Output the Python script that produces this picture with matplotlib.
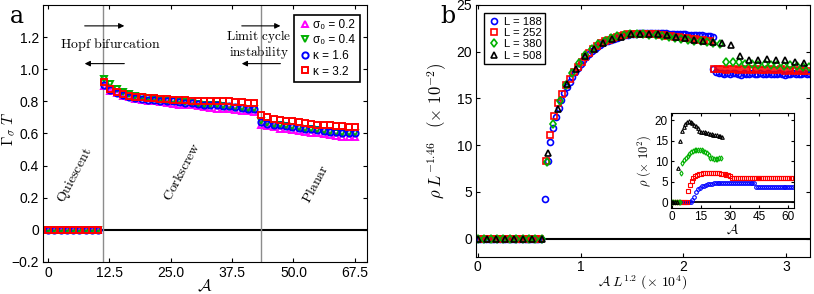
import numpy as np
import matplotlib
matplotlib.use('Agg')
import matplotlib.pyplot as plt

plt.rcParams['font.family'] = ['Liberation Sans', 'DejaVu Sans']
plt.rcParams['mathtext.fontset'] = 'cm'

# ---------------- panel a data ----------------
quiescent_x = [0, 1.275, 2.55, 3.825, 5.1, 6.375, 7.65, 8.925, 10.2]
cork_x = np.arange(25) * 1.275 + 11.4
planar_x = np.arange(16) * 1.273 + 43.4

cork_sigma02 = [0.895, 0.865, 0.85, 0.835, 0.825, 0.815, 0.81, 0.80, 0.80, 0.795, 0.79, 0.785, 0.78,
                0.78, 0.775, 0.77, 0.765, 0.76, 0.755, 0.755, 0.75, 0.745, 0.74, 0.74, 0.735]
cork_sigma04 = [0.94, 0.905, 0.88, 0.86, 0.845, 0.835, 0.825, 0.82, 0.815, 0.81, 0.805, 0.80, 0.80,
                0.795, 0.79, 0.785, 0.78, 0.78, 0.775, 0.77, 0.765, 0.76, 0.76, 0.755, 0.75]
cork_kappa16 = [0.90, 0.87, 0.855, 0.84, 0.83, 0.82, 0.815, 0.81, 0.81, 0.805, 0.80, 0.80, 0.795,
                0.79, 0.79, 0.785, 0.78, 0.78, 0.775, 0.77, 0.77, 0.765, 0.76, 0.755, 0.75]
cork_kappa32 = [0.92, 0.88, 0.86, 0.845, 0.835, 0.83, 0.825, 0.82, 0.82, 0.815, 0.815, 0.81, 0.81,
                0.81, 0.805, 0.805, 0.80, 0.80, 0.80, 0.80, 0.80, 0.795, 0.795, 0.79, 0.79]

planar_sigma02 = [0.655, 0.645, 0.64, 0.63, 0.625, 0.62, 0.615, 0.61, 0.60, 0.60, 0.595, 0.59,
                  0.585, 0.58, 0.58, 0.575]
planar_sigma04 = [0.675, 0.665, 0.655, 0.65, 0.645, 0.64, 0.635, 0.63, 0.625, 0.62, 0.615, 0.61,
                  0.605, 0.605, 0.60, 0.60]
planar_kappa16 = [0.67, 0.66, 0.655, 0.65, 0.645, 0.64, 0.635, 0.63, 0.625, 0.62, 0.615, 0.61,
                  0.61, 0.605, 0.60, 0.60]
planar_kappa32 = [0.715, 0.70, 0.69, 0.685, 0.68, 0.675, 0.67, 0.665, 0.66, 0.655, 0.655, 0.65,
                  0.645, 0.645, 0.64, 0.64]

a_xticks = [0, 12.5, 25, 37.5, 50, 62.5]
a_xticklabels = ['0', '12.5', '25.0', '37.5', '50.0', '67.5']
a_yticks = [-0.2, 0, 0.2, 0.4, 0.6, 0.8, 1.0, 1.2]
a_yticklabels = ['\u22120.2', '0', '0.2', '0.4', '0.6', '0.8', '1.0', '1.2']

# ---------------- panel b data ----------------
# L = 188
b188_zero_x = np.arange(0, 0.64, 0.0268)
b188_up_y = [4.2, 8.3, 10.3, 11.8, 13.0, 14.0, 14.8, 15.6, 16.2, 16.8, 17.3, 17.8, 18.3, 18.7, 19.1,
             19.4, 19.8, 20.1, 20.3, 20.5, 20.7, 20.9, 21.1, 21.2, 21.3, 21.4, 21.5, 21.6, 21.7,
             21.75, 21.8, 21.85, 21.9, 21.9, 21.95, 21.95, 22.0, 22.0, 22.0, 22.0, 22.0, 22.0,
             21.95, 21.95, 21.95, 21.9, 21.9, 21.9, 21.9, 21.85, 21.85, 21.85, 21.8, 21.8, 21.8,
             21.8, 21.75, 21.75, 21.7, 21.7, 21.7, 21.6]
b188_up_x = np.arange(len(b188_up_y)) * 0.0268 + 0.653
b188_lo_y = [18.1, 17.8, 17.7, 17.7, 17.6, 17.7, 17.6, 17.7, 17.7, 17.6, 17.5, 17.7, 17.6, 17.6,
             17.7, 17.6, 17.6, 17.7, 17.6, 17.6, 17.7, 17.6, 17.6, 17.6, 17.7, 17.6, 17.5, 17.6,
             17.6, 17.7, 17.6, 17.6, 17.6, 17.7, 17.6, 17.6]
b188_lo_x = np.arange(len(b188_lo_y)) * 0.0268 + 2.29
# L = 252
b252_zero_x = np.arange(0, 0.64, 0.038)
b252_up_y = [8.3, 11.1, 13.1, 14.5, 15.5, 16.4, 17.1, 17.8, 18.4, 18.9, 19.4, 19.9, 20.3, 20.6,
             20.9, 21.1, 21.3, 21.5, 21.6, 21.7, 21.8, 21.85, 21.9, 21.9, 21.9, 21.9, 21.9, 21.85,
             21.85, 21.8, 21.8, 21.7, 21.7, 21.6, 21.6, 21.5, 21.5, 21.4, 21.4, 21.3, 21.3, 21.2, 21.2]
b252_up_x = np.arange(len(b252_up_y)) * 0.038 + 0.667
b252_lo_y = [18.2, 18.1, 18.2, 18.0, 18.1, 18.2, 18.0, 18.1, 18.0, 18.1, 18.0, 18.1, 18.0, 18.0,
             18.1, 18.0, 18.0, 18.1, 17.9, 18.0, 17.9, 18.0, 17.9, 17.9, 17.9]
b252_lo_x = np.arange(len(b252_lo_y)) * 0.038 + 2.301
# L = 380
b380_zero_x = np.arange(0, 0.64, 0.0623)
b380_up_y = [8.2, 12.3, 14.7, 16.4, 17.7, 18.8, 19.6, 20.3, 20.8, 21.2, 21.5, 21.7, 21.8, 21.9,
             21.9, 21.9, 21.8, 21.75, 21.7, 21.6, 21.5, 21.4, 21.3, 21.2, 21.1, 21.0, 20.9, 20.8]
b380_up_x = np.arange(len(b380_up_y)) * 0.0623 + 0.672
b380_lo_y = [18.9, 18.9, 18.9, 18.7, 18.7, 18.6, 18.7, 18.6, 18.6, 18.5, 18.6, 18.5, 18.4, 18.4]
b380_lo_x = np.arange(len(b380_lo_y)) * 0.0623 + 2.415
# L = 508
b508_zero_x = np.arange(0, 0.64, 0.0886)
b508_y = [9.2, 13.9, 16.55, 18.1, 19.5, 20.3, 20.9, 21.4, 21.6, 21.85, 21.9, 21.9, 21.9, 21.8,
          21.6, 21.5, 21.3, 21.2, 21.05, 20.95, 20.7, 19.5, 19.1, 19.1, 19.2, 19.1, 19.1, 18.95, 18.8]
b508_x = np.arange(len(b508_y)) * 0.0886 + 0.688

# inset: rho (x 10^2) vs A
in188_zero_x = np.arange(0, 10.6, 1.0)
in188_y = [0.55, 1.4, 2.5, 3.2, 3.6, 3.85, 4.05, 4.2, 4.35, 4.45, 4.55, 4.6, 4.65, 4.7,
           4.75, 4.75, 4.8, 4.8, 4.8, 4.8, 4.8, 4.8, 4.8, 4.8, 4.8, 4.8, 4.8, 4.8, 4.8,
           4.8, 4.8, 4.8, 4.8, 3.8, 3.8, 3.8, 3.8, 3.8, 3.8, 3.8, 3.8, 3.8, 3.8, 3.8,
           3.8, 3.8, 3.8, 3.8, 3.8, 3.8, 3.8, 3.8, 3.8]
in188_x = np.arange(len(in188_y)) + 10.6
in252_zero_x = np.arange(0, 8.2, 1.0)
in252_y = [2.8, 4.3, 5.2, 5.9, 6.3, 6.6, 6.8, 6.95, 7.05, 7.15, 7.2, 7.25, 7.25, 7.2,
           7.15, 7.1, 7.05, 7.0, 6.9, 6.8, 6.7, 6.6, 6.5, 5.8, 5.8, 5.8, 5.8, 5.8, 5.8,
           5.8, 5.8, 5.8, 5.8, 5.8, 5.8, 5.8, 5.8, 5.8, 5.8, 5.8, 5.8, 5.8, 5.8, 5.8,
           5.8, 5.8, 5.8, 5.8, 5.8, 5.8, 5.8, 5.8, 5.8, 5.8, 5.8]
in252_x = np.arange(len(in252_y)) + 8.2
in380_zero_x = np.arange(0, 4.6, 0.9)
in380_y = [7.2, 9.5, 10.2, 10.8, 11.3, 11.8, 12.2, 12.5, 12.7, 12.8, 12.8, 12.8, 12.7,
           12.5, 12.3, 12.0, 11.5, 10.9, 10.7, 10.6, 10.6, 10.6, 10.7, 10.7]
in380_x = np.arange(len(in380_y)) * 0.9 + 4.6
in508_zero_x = np.arange(0, 3.4, 0.9)
in508_y = [8.4, 14.9, 17.4, 18.3, 19.1, 19.6, 19.7, 19.5, 19.2, 18.9, 18.6, 18.1, 17.3,
           17.2, 17.1, 17.0, 16.9, 16.8, 16.7, 16.6, 16.5, 16.4, 16.3, 16.2, 16.1, 16.0]
in508_x = np.arange(len(in508_y)) * 0.9 + 3.4

MAG, GRN, BLU, RED = '#ff00ff', '#00b000', '#0000ff', '#ff0000'

fig = plt.figure(figsize=(8.14, 2.94), dpi=100)

# ================= panel a =================
ax = fig.add_axes([0.053, 0.109, 0.398, 0.874])
ax.axvline(11.2, color='#8c8c8c', lw=1)
ax.axvline(43.4, color='#8c8c8c', lw=1)
ax.axhline(0, color='k', lw=1.5, zorder=1)

series = [(planar_sigma02, cork_sigma02, MAG, '^', '\u03c3\u2080 = 0.2'),
          (planar_sigma04, cork_sigma04, GRN, 'v', '\u03c3\u2080 = 0.4'),
          (planar_kappa16, cork_kappa16, BLU, 'o', '\u03ba = 1.6'),
          (planar_kappa32, cork_kappa32, RED, 's', '\u03ba = 3.2')]
for pl, ck, c, m, lab in series:
    kw = dict(ls='none', marker=m, mfc='none', mec=c, ms=4.5, mew=1.4)
    ax.plot(quiescent_x, np.zeros(len(quiescent_x)), **kw)
    ax.plot(cork_x, ck, label=lab, **kw)
    ax.plot(planar_x, pl, **kw)

ax.set_xlim(-1, 65)
ax.set_ylim(-0.2, 1.4)
ax.set_xticks(a_xticks)
ax.set_xticklabels(a_xticklabels)
ax.set_yticks(a_yticks)
ax.set_yticklabels(a_yticklabels)
ax.tick_params(direction='in', top=True, right=True, labelsize=10, length=3, pad=3)
ax.set_xlabel(r'$\mathcal{A}$', fontsize=12, labelpad=-1)
ax.set_ylabel(r'$\Gamma_\sigma\ T$', fontsize=11)
ax.yaxis.set_label_coords(-0.08, 0.52)

leg = ax.legend(loc='upper right', fontsize=8.5, handletextpad=0.2, borderpad=0.35,
                labelspacing=0.3, handlelength=1.1, fancybox=False, edgecolor='k',
                framealpha=1, bbox_to_anchor=(0.995, 0.985))
leg.get_frame().set_linewidth(1.2)

serif = dict(fontsize=10, ha='center', va='center')
ax.text(12.8, 1.155, r'$\mathrm{Hopf\ bifurcation}$', **serif)
ax.text(43.0, 1.155, r'$\mathrm{Limit\ cycle}$' + '\n' + r'$\mathrm{instability}$',
        linespacing=0.95, fontsize=9.5, ha='center', va='center')
arr = dict(arrowstyle='-|>', color='k', lw=0.8, mutation_scale=8)
for x0, x1 in [(6.9, 16.1), (38.9, 47.9)]:
    ax.annotate('', xy=(x1, 1.27), xytext=(x0, 1.27), arrowprops=arr)
    ax.annotate('', xy=(x0, 1.035), xytext=(x1, 1.035), arrowprops=arr)

ax.text(5.6, 0.34, r'$\mathrm{Quiescent}$', rotation=62, **serif)
ax.text(27.3, 0.36, r'$\mathrm{Corkscrew}$', rotation=62, **serif)
ax.text(54.4, 0.29, r'$\mathrm{Planar}$', rotation=62, **serif)
fig.text(0.012, 0.945, 'a', fontsize=17, family='DejaVu Serif', va='center')

# ================= panel b =================
bx = fig.add_axes([0.585, 0.125, 0.41, 0.858])
bx.axhline(0, color='k', lw=1.5, zorder=1)
kb = dict(ls='none', mfc='none', ms=4.3, mew=1.2)
bx.plot(b188_zero_x, np.zeros(len(b188_zero_x)), marker='o', mec=BLU, **kb)
bx.plot(b252_zero_x, np.zeros(len(b252_zero_x)), marker='s', mec=RED, **kb)
bx.plot(b380_zero_x, np.zeros(len(b380_zero_x)), marker='d', mec=GRN, **kb)
bx.plot(b508_zero_x, np.zeros(len(b508_zero_x)), marker='^', mec='k', **kb)
bx.plot(b188_up_x, b188_up_y, marker='o', mec=BLU, label='L = 188', **kb)
bx.plot(b188_lo_x, b188_lo_y, marker='o', mec=BLU, **kb)
bx.plot(b252_up_x, b252_up_y, marker='s', mec=RED, label='L = 252', **kb)
bx.plot(b252_lo_x, b252_lo_y, marker='s', mec=RED, **kb)
bx.plot(b380_up_x, b380_up_y, marker='d', mec=GRN, label='L = 380', **kb)
bx.plot(b380_lo_x, b380_lo_y, marker='d', mec=GRN, **kb)
bx.plot(b508_x, b508_y, marker='^', mec='k', label='L = 508', **kb)

bx.set_xlim(-0.015, 3.23)
bx.set_ylim(-2, 25)
bx.set_xticks([0, 1, 2, 3])
bx.set_yticks([0, 5, 10, 15, 20, 25])
bx.tick_params(direction='in', top=True, right=True, labelsize=10, length=3, pad=3)
bx.tick_params(axis='x', pad=2)
bx.set_xlabel(r'$\mathcal{A}\; L^{1.2}\ (\times\ 10^4)$', fontsize=10, labelpad=-0.5)
bx.set_ylabel(r'$\rho\; L^{-1.46}\ \ \ (\times\ 10^{-2})$', fontsize=12, labelpad=5)
legb = bx.legend(loc='upper left', fontsize=8.2, handletextpad=0.3, borderpad=0.3,
                 labelspacing=0.12, handlelength=1.2, fancybox=False, edgecolor='k',
                 framealpha=1, bbox_to_anchor=(0.005, 0.99))
legb.get_frame().set_linewidth(1.0)
fig.text(0.541, 0.945, 'b', fontsize=17, family='DejaVu Serif', va='center')

# inset
ix = fig.add_axes([0.824, 0.291, 0.151, 0.324])
ix.axhline(0, color='k', lw=1.3, zorder=1)
ki = dict(ls='none', mfc='none', ms=2.6, mew=0.8)
for zx, xx, yy, m, c in [(in188_zero_x, in188_x, in188_y, 'o', BLU),
                         (in252_zero_x, in252_x, in252_y, 's', RED),
                         (in380_zero_x, in380_x, in380_y, 'd', GRN),
                         (in508_zero_x, in508_x, in508_y, '^', 'k')]:
    ix.plot(zx, np.zeros(len(zx)), marker=m, mec=c, **ki)
    ix.plot(xx, yy, marker=m, mec=c, **ki)
ix.set_xlim(-0.5, 62.8)
ix.set_ylim(-1.5, 21.7)
ix.set_xticks([0, 15, 30, 45, 60])
ix.set_yticks([0, 5, 10, 15, 20])
ix.tick_params(direction='in', top=True, right=True, labelsize=8.5, length=2, pad=2)
ix.set_xlabel(r'$\mathcal{A}$', fontsize=10, labelpad=0)
ix.set_ylabel(r'$\rho\ (\times\ 10^2)$', fontsize=9, labelpad=1)

fig.savefig('out.png', dpi=100)
